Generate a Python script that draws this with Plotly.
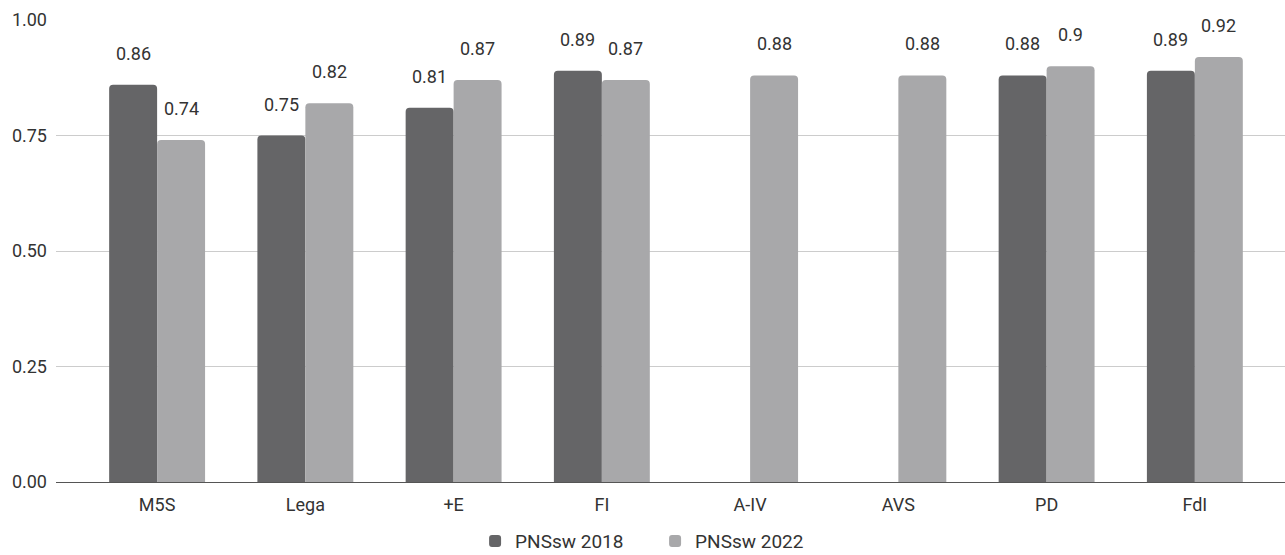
import plotly.graph_objects as go

# Party categories and index values per survey wave
parties = ["M5S", "Lega", "+E", "FI", "A-IV", "AVS", "PD", "FdI"]
pnssw_2018 = [0.86, 0.75, 0.81, 0.89, None, None, 0.88, 0.89]
pnssw_2022 = [0.74, 0.82, 0.87, 0.87, 0.88, 0.88, 0.90, 0.92]
label_2018 = ["0.86", "0.75", "0.81", "0.89", "", "", "0.88", "0.89"]
label_2022 = ["0.74", "0.82", "0.87", "0.87", "0.88", "0.88", "0.9", "0.92"]
y_ticks = [0, 0.25, 0.5, 0.75, 1.0]
y_tick_text = ["0.00", "0.25", "0.50", "0.75", "1.00"]

DARK = "#656567"
LIGHT = "#a8a8aa"
FONT = "Roboto"

fig = go.Figure()
fig.add_trace(go.Bar(name="PNSsw 2018", x=parties, y=pnssw_2018,
                     marker=dict(color=DARK, cornerradius=4, line=dict(width=0))))
fig.add_trace(go.Bar(name="PNSsw 2022", x=parties, y=pnssw_2022,
                     marker=dict(color=LIGHT, cornerradius=4, line=dict(width=0))))

# Value labels above each bar
annotations = []
for labels, values, shift in ((label_2018, pnssw_2018, -24), (label_2022, pnssw_2022, 24)):
    for p, v, t in zip(parties, values, labels):
        if v is None:
            continue
        annotations.append(dict(x=p, y=v, text=t, showarrow=False, xshift=shift,
                                yshift=19, yanchor="bottom", xanchor="center",
                                font=dict(family=FONT, size=18, color="#333333")))

fig.update_layout(
    width=1285, height=555,
    margin=dict(l=56, r=0, t=20, b=73, autoexpand=False),
    paper_bgcolor="white", plot_bgcolor="white",
    barmode="group", bargap=0.353, bargroupgap=0.0,
    font=dict(family=FONT, size=18, color="#444444"),
    annotations=annotations,
    legend=dict(orientation="h", x=0.341, xanchor="left",
                yref="container", y=0.025, yanchor="middle",
                font=dict(family=FONT, size=19, color="#333333"),
                traceorder="normal", itemwidth=30,
                entrywidth=135, entrywidthmode="pixels"),
    xaxis=dict(range=[-0.682, 7.608], showgrid=False, showline=False, ticks="",
               ticklabelstandoff=10,
               tickfont=dict(family=FONT, size=18, color="#333333"), fixedrange=True),
    yaxis=dict(range=[0, 1], tickvals=y_ticks, ticktext=y_tick_text,
               showgrid=True, gridcolor="#cccccc", gridwidth=1,
               zeroline=True, zerolinecolor="#555555", zerolinewidth=1,
               showline=False, ticks="", ticklabelstandoff=8,
               tickfont=dict(family=FONT, size=18, color="#333333")),
)

fig.write_html("out.html")
